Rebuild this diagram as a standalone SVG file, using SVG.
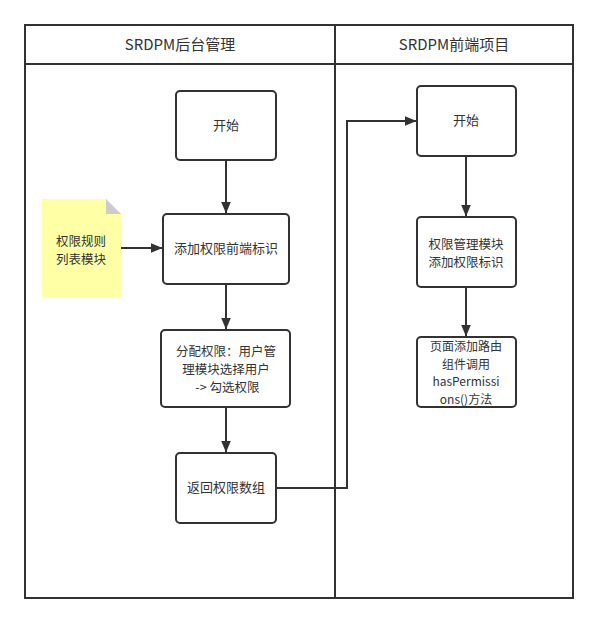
<svg xmlns="http://www.w3.org/2000/svg" width="598" height="624" viewBox="0 0 598 624">
<defs>
<style>
.frame{fill:none;stroke:#323232;stroke-width:2}
.node{fill:#ffffff;stroke:#323232;stroke-width:2}
.t{font-family:"Microsoft YaHei","Noto Sans CJK SC","Noto Sans",sans-serif;font-size:13px;fill:#333333;text-anchor:middle}
.m{font-size:12.5px}
.s{font-size:12px}
.h{font-family:"Microsoft YaHei","Noto Sans CJK SC","Noto Sans",sans-serif;font-size:15px;fill:#333333;text-anchor:middle}
.c{fill:none;stroke:#323232;stroke-width:2}
</style>
<marker id="arr" viewBox="0 0 12 10" refX="11.5" refY="5" markerWidth="12" markerHeight="10" markerUnits="userSpaceOnUse" orient="auto">
<path d="M0,0 L12,5 L0,10 Z" fill="#323232"/>
</marker>
</defs>
<rect width="598" height="624" fill="#ffffff"/>
<g id="pool">
<rect class="frame" x="25" y="25" width="548" height="573"/>
<line class="frame" x1="25" y1="64" x2="573" y2="64"/>
<line class="frame" x1="335" y1="25" x2="335" y2="598"/>
<text class="h" x="180" y="50">SRDPM后台管理</text>
<text class="h" x="454" y="50">SRDPM前端项目</text>
</g>
<g id="connectors">
<line class="c" x1="226" y1="160" x2="226" y2="213" marker-end="url(#arr)"/>
<line class="c" x1="121" y1="248" x2="162" y2="248" marker-end="url(#arr)"/>
<line class="c" x1="226" y1="285" x2="226" y2="329" marker-end="url(#arr)"/>
<line class="c" x1="226" y1="407" x2="226" y2="452" marker-end="url(#arr)"/>
<polyline class="c" points="276,488 347,488 347,121 416,121" marker-end="url(#arr)"/>
<line class="c" x1="466" y1="156" x2="466" y2="216" marker-end="url(#arr)"/>
<line class="c" x1="466" y1="287" x2="466" y2="336" marker-end="url(#arr)"/>
</g>
<g id="note">
<path d="M42,199 L106,199 L121,214 L121,298 L42,298 Z" fill="#ffffa6"/>
<path d="M106,199 L121,214 L106,214 Z" fill="#cccccc"/>
<text class="t m" x="81" y="245.6">权限规则<tspan x="81" dy="18.2">列表模块</tspan></text>
</g>
<g id="start-left">
<rect class="node" x="176" y="91" width="100" height="69" rx="4"/>
<text class="t" x="226" y="130">开始</text>
</g>
<g id="add-front-flag">
<rect class="node" x="163" y="214" width="126" height="70" rx="4"/>
<text class="t" x="226" y="253">添加权限前端标识</text>
</g>
<g id="assign">
<rect class="node" x="161" y="330" width="129" height="77" rx="4"/>
<text class="t m" x="226" y="356">分配权限：用户管<tspan x="226" dy="18.2">理模块选择用户</tspan><tspan x="226" dy="18.2"> -&gt; 勾选权限</tspan></text>
</g>
<g id="return-array">
<rect class="node" x="176" y="453" width="100" height="70" rx="4"/>
<text class="t" x="226" y="492">返回权限数组</text>
</g>
<g id="start-right">
<rect class="node" x="417" y="86" width="99" height="70" rx="4"/>
<text class="t" x="466" y="125">开始</text>
</g>
<g id="perm-module">
<rect class="node" x="417" y="217" width="99" height="70" rx="4"/>
<text class="t m" x="466" y="248.5">权限管理模块<tspan x="466" dy="18.2">添加权限标识</tspan></text>
</g>
<g id="page-route">
<rect class="node" x="417" y="337" width="99" height="70" rx="4"/>
<text class="t s" x="466" y="351">页面添加路由<tspan x="466" dy="17.5">组件调用</tspan><tspan x="466" dy="17.5">hasPermissi</tspan><tspan x="466" dy="17.5">ons()方法</tspan></text>
</g>
</svg>
